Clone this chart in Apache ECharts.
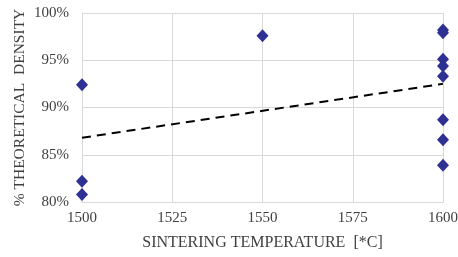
<!DOCTYPE html>
<html>
<head>
<meta charset="utf-8">
<script src="https://cdn.jsdelivr.net/npm/echarts@6/dist/echarts.min.js"></script>
<style>
  html, body { margin: 0; padding: 0; background: #fff; }
  #chart { width: 458px; height: 257px; }
</style>
</head>
<body>
<div id="chart"></div>
<script>
// measured points: sintering temperature vs % theoretical density
const temps = [1500, 1500, 1500, 1550, 1600, 1600, 1600, 1600, 1600, 1600, 1600, 1600]
const density = [92.4, 82.2, 80.8, 97.6, 98.2, 97.9, 95.1, 94.4, 93.3, 88.7, 86.6, 83.9]
// linear trend line end points
const trendX = [1500, 1600]
const trendY = [86.8, 92.5]

const font = 'Liberation Serif'
const grey = '#404040'
const gridColor = '#d9d9d9'

const chart = echarts.init(document.getElementById('chart'))

chart.setOption({
	animation: false,
	grid: { left: 82, right: 15, top: 13, bottom: 55, outerBoundsMode: 'none' },
	xAxis: {
		type: 'value',
		min: 1500,
		max: 1600,
		interval: 25,
		name: 'SINTERING TEMPERATURE  [*C]',
		nameLocation: 'middle',
		nameGap: 33,
		nameTextStyle: { fontFamily: font, fontSize: 16, color: grey },
		axisLine: { lineStyle: { color: gridColor } },
		axisTick: { show: false },
		axisLabel: { fontFamily: font, fontSize: 15, color: grey, margin: 9, formatter: v => String(v) },
		splitLine: { lineStyle: { color: gridColor } }
	},
	yAxis: {
		type: 'value',
		min: 80,
		max: 100,
		interval: 5,
		name: '% THEORETICAL  DENSITY',
		nameLocation: 'middle',
		nameGap: 54,
		nameMoveOverlap: false,
		nameTextStyle: { fontFamily: font, fontSize: 15.5, color: grey },
		axisLine: { show: true, lineStyle: { color: gridColor } },
		axisTick: { show: false },
		axisLabel: { fontFamily: font, fontSize: 15, color: grey, formatter: '{value}%', margin: 13 },
		splitLine: { lineStyle: { color: gridColor } }
	},
	series: [
		{
			type: 'line',
			data: trendX.map((x, i) => [x, trendY[i]]),
			symbol: 'none',
			lineStyle: { color: '#000', width: 2, type: [9, 6] },
			z: 2
		},
		{
			type: 'scatter',
			data: temps.map((t, i) => [t, density[i]]),
			symbol: 'diamond',
			symbolSize: [12, 13],
			itemStyle: { color: '#2e3192', opacity: 1 },
			z: 3
		}
	]
})
</script>
</body>
</html>
